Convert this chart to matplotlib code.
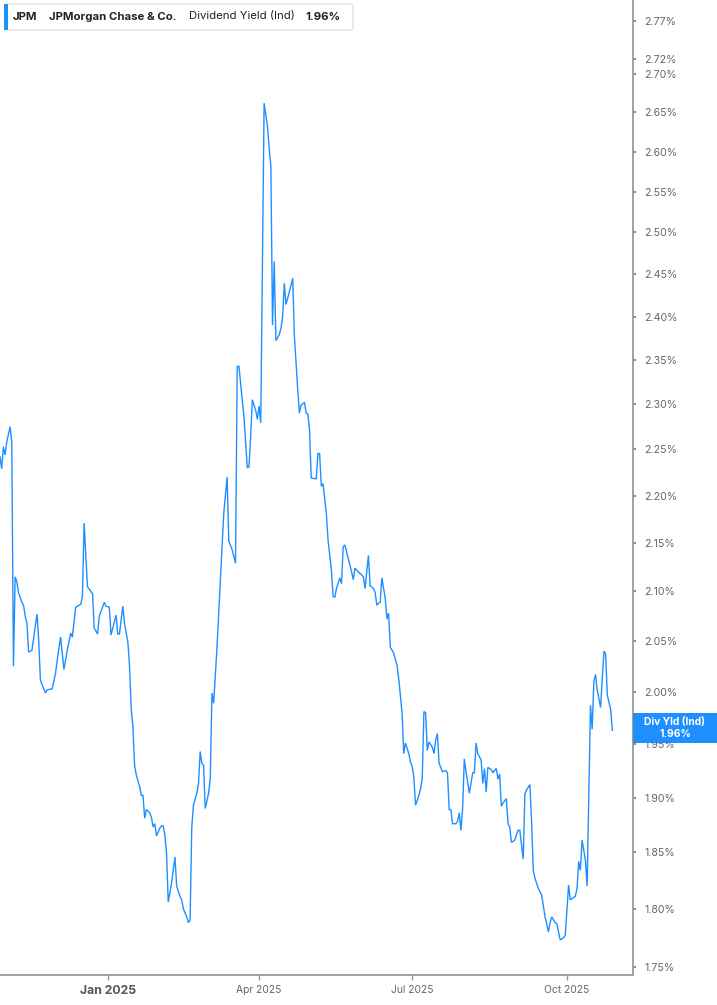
import matplotlib
matplotlib.use('Agg')
import matplotlib.pyplot as plt
import matplotlib.ticker as mticker
from matplotlib.patches import FancyBboxPatch, Rectangle
import pandas as pd

# ---------------- data ----------------
start_date = '2024-10-29'
day_offsets = [
    0, 1, 2, 3, 4, 6, 7, 8, 9, 10, 11, 13, 14, 15, 16, 17, 19, 22, 23, 24,
    25, 27, 28, 31, 33, 34, 36, 38, 40, 42, 43, 45, 48, 49, 50, 52, 54, 55, 56, 58,
    59, 62, 63, 65, 66, 69, 70, 71, 73, 74, 76, 77, 78, 79, 80, 81, 83, 84, 85, 86,
    87, 89, 90, 91, 92, 93, 95, 96, 97, 98, 99, 100, 102, 104, 105, 107, 108, 109, 111, 112,
    113, 114, 115, 117, 118, 119, 120, 121, 122, 124, 125, 126, 127, 129, 130, 131, 133, 135, 136, 138,
    140, 141, 142, 145, 147, 148, 149, 150, 152, 153, 154, 155, 157, 159, 160, 161, 162, 163, 164, 166,
    167, 168, 169, 170, 172, 174, 175, 177, 178, 179, 181, 182, 183, 184, 185, 188, 189, 190, 191, 192,
    194, 195, 197, 198, 199, 200, 202, 203, 204, 205, 207, 209, 210, 211, 213, 215, 216, 217, 219, 220,
    222, 223, 224, 225, 226, 227, 229, 230, 231, 232, 234, 236, 237, 239, 240, 241, 243, 244, 245, 246,
    247, 249, 250, 251, 252, 253, 254, 255, 257, 258, 259, 260, 261, 263, 265, 266, 267, 268, 269, 271,
    272, 273, 274, 275, 276, 277, 279, 281, 282, 283, 284, 286, 287, 288, 289, 290, 292, 293, 295, 296,
    297, 298, 299, 301, 302, 303, 304, 306, 307, 308, 309, 311, 312, 313, 315, 316, 317, 318, 320, 322,
    324, 326, 327, 328, 330, 331, 333, 335, 336, 338, 339, 342, 343, 344, 345, 346, 348, 349, 351, 352,
    353, 354, 355, 357, 358, 359, 360, 361, 363, 364,
]
yield_pct = [
    2.242, 2.229, 2.253, 2.244, 2.258, 2.275, 2.258, 2.025, 2.115, 2.110, 2.099, 2.089, 2.086, 2.075, 2.068, 2.039, 2.041, 2.077, 2.051, 2.012,
    2.007, 1.999, 2.002, 2.003, 2.018, 2.031, 2.054, 2.022, 2.041, 2.058, 2.054, 2.084, 2.087, 2.095, 2.171, 2.105, 2.100, 2.098, 2.063, 2.057,
    2.075, 2.089, 2.085, 2.084, 2.056, 2.076, 2.057, 2.057, 2.085, 2.068, 2.049, 2.025, 1.983, 1.967, 1.930, 1.921, 1.910, 1.902, 1.902, 1.881,
    1.889, 1.886, 1.882, 1.873, 1.876, 1.865, 1.872, 1.874, 1.874, 1.866, 1.849, 1.806, 1.823, 1.846, 1.820, 1.811, 1.808, 1.800, 1.793, 1.788,
    1.790, 1.873, 1.893, 1.904, 1.913, 1.943, 1.932, 1.930, 1.890, 1.904, 1.918, 1.999, 1.989, 2.044, 2.078, 2.112, 2.181, 2.220, 2.152, 2.143,
    2.129, 2.342, 2.343, 2.286, 2.230, 2.231, 2.264, 2.305, 2.293, 2.283, 2.298, 2.279, 2.662, 2.632, 2.605, 2.582, 2.390, 2.465, 2.372, 2.379,
    2.386, 2.400, 2.439, 2.414, 2.429, 2.445, 2.377, 2.316, 2.290, 2.299, 2.302, 2.290, 2.289, 2.271, 2.219, 2.218, 2.246, 2.245, 2.210, 2.213,
    2.181, 2.153, 2.122, 2.095, 2.094, 2.103, 2.114, 2.108, 2.146, 2.148, 2.134, 2.120, 2.112, 2.124, 2.120, 2.117, 2.115, 2.103, 2.137, 2.106,
    2.103, 2.099, 2.086, 2.088, 2.089, 2.114, 2.093, 2.072, 2.078, 2.044, 2.038, 2.026, 2.013, 1.980, 1.941, 1.951, 1.941, 1.933, 1.929, 1.919,
    1.893, 1.902, 1.908, 1.918, 1.981, 1.980, 1.944, 1.952, 1.947, 1.941, 1.954, 1.960, 1.932, 1.924, 1.925, 1.923, 1.889, 1.889, 1.876, 1.876,
    1.878, 1.886, 1.870, 1.890, 1.936, 1.924, 1.904, 1.923, 1.923, 1.951, 1.941, 1.935, 1.913, 1.927, 1.905, 1.928, 1.926, 1.923, 1.927, 1.917,
    1.922, 1.892, 1.895, 1.899, 1.876, 1.873, 1.859, 1.861, 1.866, 1.870, 1.870, 1.844, 1.903, 1.907, 1.912, 1.878, 1.834, 1.827, 1.818, 1.812,
    1.793, 1.780, 1.788, 1.793, 1.788, 1.787, 1.773, 1.775, 1.777, 1.821, 1.808, 1.811, 1.818, 1.842, 1.834, 1.861, 1.843, 1.820, 1.987, 1.964,
    2.010, 2.017, 2.002, 1.985, 2.013, 2.040, 2.037, 1.997, 1.983, 1.963,
]
ytick_vals = [1.75, 1.80, 1.85, 1.90, 1.95, 2.00, 2.05, 2.10, 2.15, 2.20, 2.25,
              2.30, 2.35, 2.40, 2.45, 2.50, 2.55, 2.60, 2.65, 2.70, 2.72, 2.77]
xtick_dates = ['2025-01-01', '2025-04-01', '2025-07-01', '2025-10-01']
xtick_labels = ['Jan 2025', 'Apr 2025', 'Jul 2025', 'Oct 2025']
ticker_symbol = 'JPM'
company_name = 'JPMorgan Chase & Co.'
metric_name = 'Dividend Yield (Ind)'
last_value_text = '1.96%'
badge_title = 'Div Yld (Ind)'

# ---------------- figure ----------------
W, H = 717, 1005
LINE = '#1e8fff'
AX_GRAY = '#9a9a9a'
TXT_GRAY = '#666666'
FONT = ['Inter', 'DejaVu Sans']
plt.rcParams['font.family'] = FONT

dates = pd.Timestamp(start_date) + pd.to_timedelta(day_offsets, unit='D')

fig = plt.figure(figsize=(W / 100, H / 100), dpi=100)
ax_bottom_px = 975
ax_right_px = 632.7
ax = fig.add_axes([0, (H - ax_bottom_px) / H, ax_right_px / W, ax_bottom_px / H])

ax.plot(dates, yield_pct, color=LINE, lw=1.0, solid_joinstyle='miter')

ax.set_yscale('log')
ax.set_ylim(1.7431, 2.7988)
ax.set_xlim(pd.Timestamp(start_date), pd.Timestamp(start_date) + pd.Timedelta(days=376.1))

# y axis on the right
ax.yaxis.tick_right()
ax.yaxis.set_major_locator(mticker.FixedLocator(ytick_vals))
ax.yaxis.set_minor_locator(mticker.NullLocator())
ax.yaxis.set_major_formatter(mticker.FixedFormatter([f'{v:.2f}%' for v in ytick_vals]))
ax.yaxis.set_minor_formatter(mticker.NullFormatter())
ax.tick_params(axis='y', which='major', length=2.5, width=1.2, color='#777777',
               pad=6, labelsize=7.6, labelcolor=TXT_GRAY)

# x axis
ax.set_xticks(pd.to_datetime(xtick_dates))
ax.set_xticklabels(xtick_labels)
ax.xaxis.set_minor_locator(mticker.NullLocator())
ax.tick_params(axis='x', which='major', length=3.5, width=1.0, color=AX_GRAY,
               pad=4, labelsize=7.4, labelcolor=TXT_GRAY)
first = ax.get_xticklabels()[0]
first.set_fontweight('bold')
first.set_fontsize(8.8)
first.set_color('#555555')

for side in ('left', 'top'):
    ax.spines[side].set_visible(False)
for side in ('right', 'bottom'):
    ax.spines[side].set_color(AX_GRAY)
    ax.spines[side].set_linewidth(1.3)
ax.set_facecolor('white')
fig.patch.set_facecolor('white')


def fx(px):
    return px / W


def fy(py):
    return 1 - py / H


# legend box (top-left)
box = FancyBboxPatch((fx(5), fy(30)), fx(353) - fx(5), fy(4) - fy(30),
                     boxstyle='round,pad=0,rounding_size=0.004',
                     transform=fig.transFigure, facecolor='white',
                     edgecolor='#e2e2e2', linewidth=1.0, zorder=5)
fig.patches.append(box)
bar = Rectangle((fx(4), fy(30)), fx(3.5), fy(4) - fy(30), transform=fig.transFigure,
                facecolor=LINE, edgecolor='none', zorder=6)
fig.patches.append(bar)

ty = fy(16.5)
LEG_FS = 8.2
fig.text(fx(13), ty, ticker_symbol, fontsize=LEG_FS, fontweight='bold', color='#222222',
         va='center', ha='left', zorder=7)
fig.text(fx(49), ty, company_name, fontsize=LEG_FS, fontweight='bold', color='#222222',
         va='center', ha='left', zorder=7)
fig.text(fx(189), ty, metric_name, fontsize=LEG_FS, color='#222222',
         va='center', ha='left', zorder=7)
fig.text(fx(305), ty, last_value_text, fontsize=LEG_FS, fontweight='bold', color='#222222',
         va='center', ha='left', zorder=7)

# last-value badge on the right axis
badge = Rectangle((fx(633), fy(743)), fx(717) - fx(633), fy(713) - fy(743),
                  transform=fig.transFigure, facecolor=LINE, edgecolor='none', zorder=6)
fig.patches.append(badge)
fig.text(fx(675), fy(721.5), badge_title, fontsize=7.4, fontweight='bold', color='white',
         ha='center', va='center', zorder=7)
fig.text(fx(675), fy(733.5), last_value_text, fontsize=7.4, fontweight='bold', color='white',
         ha='center', va='center', zorder=7)

fig.savefig('out.png', dpi=100, facecolor='white')
